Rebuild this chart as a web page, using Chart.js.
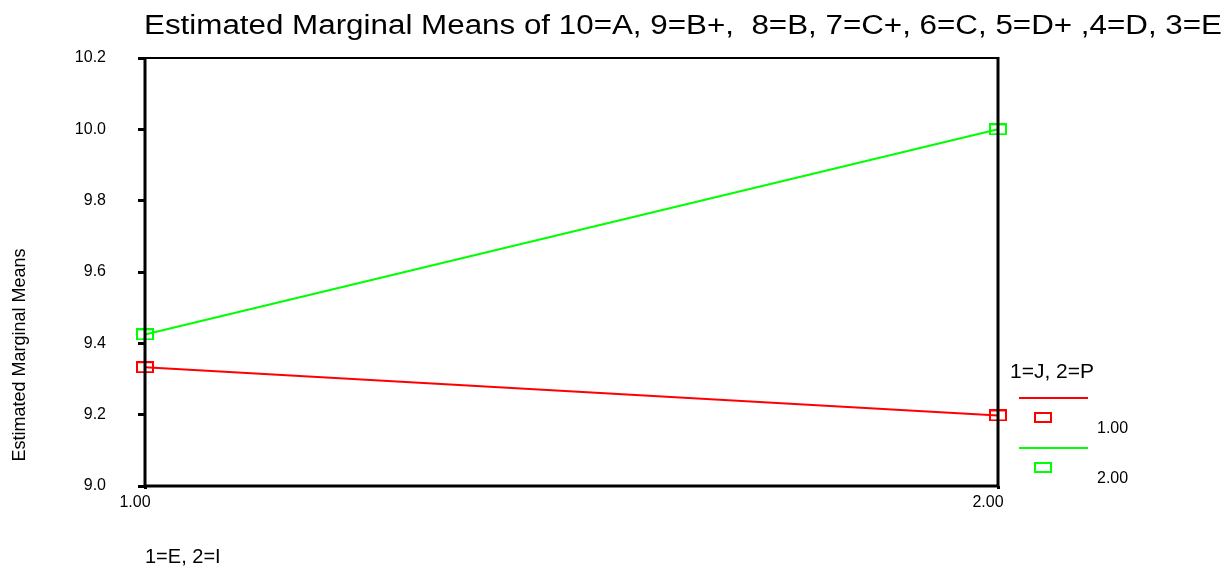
<!DOCTYPE html>
<html>
<head>
<meta charset="utf-8">
<script src="https://cdn.jsdelivr.net/npm/chart.js@4"></script>
<style>
html,body{margin:0;padding:0;background:#fff;}
#wrap{width:1225px;height:571px;position:relative;}
</style>
</head>
<body>
<div id="wrap"><canvas id="c" width="1225" height="571"></canvas></div>
<script>
const titleText = "Estimated Marginal Means of 10=A, 9=B+,  8=B, 7=C+, 6=C, 5=D+ ,4=D, 3=E";
const xTitle = "1=E, 2=I";
const yTitle = "Estimated Marginal Means";
const legendTitle = "1=J, 2=P";
const xCategories = [1, 2];
const seriesLabels = ["1.00", "2.00"];
const series1 = [9.333, 9.198];
const series2 = [9.425, 10.0];
const seriesColors = ["#ff0000", "#00ff00"];
const yTicks = [9.0, 9.2, 9.4, 9.6, 9.8, 10.0, 10.2];

const FONT = "'Liberation Sans', Arial, sans-serif";

function rectMarker(color) {
  const c = document.createElement('canvas');
  c.width = 18; c.height = 12;
  const g = c.getContext('2d');
  g.strokeStyle = color;
  g.lineWidth = 2;
  g.strokeRect(1, 1, 16, 10);
  return c;
}

const allSeries = [series1, series2];
const datasets = allSeries.map((s, i) => ({
  label: seriesLabels[i],
  data: xCategories.map((x, j) => ({x: x, y: s[j]})),
  borderColor: seriesColors[i],
  backgroundColor: seriesColors[i],
  borderWidth: 2,
  pointStyle: rectMarker(seriesColors[i]),
  pointRadius: 8,
  tension: 0,
  clip: false
}));

const decor = {
  id: 'decor',
  afterDraw(chart) {
    const ctx = chart.ctx;
    const a = chart.chartArea;
    ctx.save();
    // frame
    ctx.strokeStyle = '#000';
    ctx.lineWidth = 2;
    ctx.beginPath();
    ctx.moveTo(a.left, a.top); ctx.lineTo(a.right, a.top);
    ctx.stroke();
    ctx.lineWidth = 3;
    ctx.beginPath();
    ctx.moveTo(a.right, a.top - 1); ctx.lineTo(a.right, a.bottom);
    ctx.moveTo(a.left, a.top - 1); ctx.lineTo(a.left, a.bottom); ctx.lineTo(a.right + 1, a.bottom);
    ctx.stroke();
    // title
    ctx.fillStyle = '#000';
    ctx.font = "27px " + FONT;
    ctx.textBaseline = 'alphabetic';
    ctx.textAlign = 'left';
    const w = ctx.measureText(titleText).width;
    const target = 1078;
    ctx.save();
    ctx.translate(144, 34);
    ctx.scale(target / w, 1);
    ctx.fillText(titleText, 0, 0);
    ctx.restore();
    // x title
    ctx.font = "20px " + FONT;
    ctx.textBaseline = 'middle';
    ctx.fillText(xTitle, 145, 557);
    // y title
    ctx.save();
    ctx.font = "18px " + FONT;
    ctx.translate(20, 355);
    ctx.rotate(-Math.PI / 2);
    ctx.textAlign = 'center';
    ctx.fillText(yTitle, 0, 0);
    ctx.restore();
    // legend
    ctx.textAlign = 'left';
    ctx.font = "21px " + FONT;
    ctx.fillText(legendTitle, 1010, 372);
    const items = [398, 448];
    ctx.font = "16px " + FONT;
    items.forEach((y, i) => {
      ctx.strokeStyle = seriesColors[i];
      ctx.lineWidth = 2;
      ctx.beginPath();
      ctx.moveTo(1019, y); ctx.lineTo(1088, y); ctx.stroke();
      ctx.strokeRect(1035, y + 15, 16, 9);
      ctx.fillStyle = '#000';
      ctx.fillText(seriesLabels[i], 1097, y + 31);
    });
    ctx.restore();
  }
};

new Chart(document.getElementById('c'), {
  type: 'line',
  data: { datasets },
  options: {
    responsive: false,
    animation: false,
    events: [],
    layout: { padding: { left: 0, top: 58, right: 227, bottom: 0 } },
    plugins: { legend: { display: false }, title: { display: false }, tooltip: { enabled: false } },
    scales: {
      x: {
        type: 'linear', min: 1, max: 2,
        afterFit(s) { s.height = 85; },
        afterBuildTicks(s) { s.ticks = xCategories.map(v => ({value: v})); },
        border: { display: false },
        grid: { drawOnChartArea: false, drawTicks: true, tickLength: 3, color: '#000', lineWidth: 3 },
        ticks: { color: '#000', font: { family: FONT, size: 16 }, padding: 4, labelOffset: -10,
          maxRotation: 0, callback: v => Number(v).toFixed(2) }
      },
      y: {
        type: 'linear', min: 9.0, max: 10.2,
        afterFit(s) { s.width = 145; },
        afterBuildTicks(s) { s.ticks = yTicks.map(v => ({value: v})); },
        border: { display: false },
        grid: { drawOnChartArea: false, drawTicks: true, tickLength: 7, color: '#000', lineWidth: 3 },
        ticks: { color: '#000', font: { family: FONT, size: 16 }, padding: 32,
          callback: v => Number(v).toFixed(1) }
      }
    }
  },
  plugins: [decor]
});
</script>
</body>
</html>
